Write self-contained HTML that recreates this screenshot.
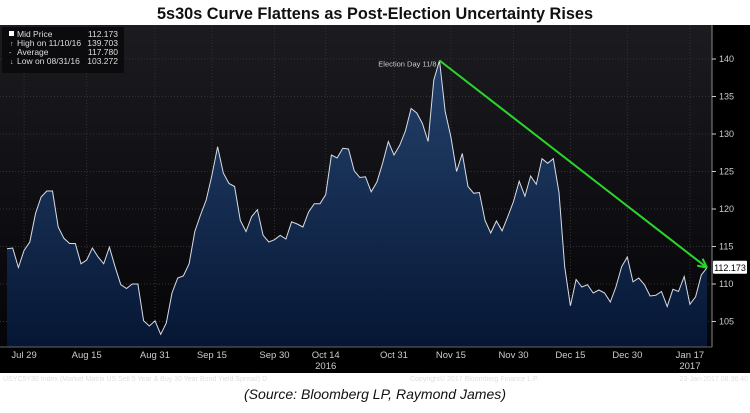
<!DOCTYPE html>
<html><head><meta charset="utf-8"><style>
body{margin:0;width:750px;height:408px;background:#fff;overflow:hidden;font-family:"Liberation Sans",sans-serif}
</style></head><body>
<svg id="c" width="750" height="408" xmlns="http://www.w3.org/2000/svg">
<defs>
<linearGradient id="bg" x1="0" y1="0" x2="0" y2="1"><stop offset="0" stop-color="#1b1b20"/><stop offset="1" stop-color="#050508"/></linearGradient>
<linearGradient id="fill" x1="0" y1="0" x2="0" y2="1"><stop offset="0" stop-color="#24426c"/><stop offset="1" stop-color="#061634"/></linearGradient>
</defs>
<text x="375" y="19" text-anchor="middle" font-size="17" font-weight="bold" fill="#111" textLength="436" lengthAdjust="spacingAndGlyphs">5s30s Curve Flattens as Post-Election Uncertainty Rises</text>
<rect x="0" y="25" width="750" height="348" fill="#000"/>
<rect x="0" y="25" width="712" height="322" fill="url(#bg)"/>
<g id="grid"></g>
<g id="series"></g>
<line x1="712" y1="25" x2="712" y2="347" stroke="#888" stroke-width="1"/>
<line x1="0" y1="347" x2="712" y2="347" stroke="#666" stroke-width="1"/>
<g id="yt" font-size="9" fill="#ccc"></g>
<g id="xt" font-size="9.5" fill="#ccc"></g>
<g>
<rect x="2" y="27" width="122" height="46" fill="#0a0a0c" opacity="0.9"/>
<g font-size="8.5" fill="#ddd">
<rect x="9" y="31" width="5" height="5" fill="#fff"/>
<text x="17" y="37">Mid Price</text><text x="118" y="37" text-anchor="end">112.173</text>
<text x="10" y="46" font-size="7">↑</text><text x="17" y="46">High on 11/10/16</text><text x="118" y="46" text-anchor="end">139.703</text>
<text x="9" y="55" font-size="7">-</text><text x="17" y="55">Average</text><text x="118" y="55" text-anchor="end">117.780</text>
<text x="10" y="64" font-size="7">↓</text><text x="17" y="64">Low on 08/31/16</text><text x="118" y="64" text-anchor="end">103.272</text>
</g></g>
<text x="3" y="381" font-size="7" fill="#ddd">USYC5Y30 Index (Market Matrix US Sell 5 Year &amp; Buy 30 Year Bond Yield Spread) D</text>
<text x="410" y="381" font-size="7" fill="#ddd">Copyright© 2017 Bloomberg Finance L.P.</text>
<text x="748" y="381" font-size="7" fill="#ddd" text-anchor="end">23-Jan-2017 08:36:40</text>
<text x="375" y="399" font-size="14" font-style="italic" text-anchor="middle" fill="#111" textLength="262" lengthAdjust="spacingAndGlyphs">(Source: Bloomberg LP, Raymond James)</text>
</svg>
<script>
const values=[114.7,114.8,112.2,114.5,115.6,119.4,121.6,122.4,122.4,117.6,116.1,115.4,115.4,112.7,113.2,114.8,113.6,112.7,114.9,112.3,109.9,109.4,110.0,110.0,105.1,104.4,105.1,103.3,104.8,108.8,110.8,111.1,112.7,117.0,119.2,121.2,124.5,128.3,124.8,123.4,123.0,118.5,117.0,119.0,119.9,116.5,115.6,115.9,116.5,116.0,118.3,118.0,117.6,119.6,120.7,120.7,121.9,127.2,126.8,128.1,128.0,125.1,124.2,124.3,122.3,123.6,126.1,129.0,127.2,128.5,130.4,133.4,132.8,131.4,129.0,137.2,139.8,133.0,129.6,125.0,127.4,123.0,122.1,122.2,118.5,116.8,118.4,117.1,119.0,121.0,123.7,121.7,124.4,123.3,126.7,126.1,126.7,122.2,112.3,107.1,110.6,109.6,109.9,108.8,109.2,108.8,107.6,109.6,112.3,113.6,110.3,110.8,109.9,108.4,108.5,109.0,107.0,109.3,109.0,111.0,107.3,108.3,111.2,112.173];
const yTicks=[105,110,115,120,125,130,135,140];
const xLabels=["Jul 29","Aug 15","Aug 31","Sep 15","Sep 30","Oct 14","Oct 31","Nov 15","Nov 30","Dec 15","Dec 30","Jan 17"];
const xLabelIdx=[3,14,26,36,47,56,68,78,89,99,109,120];
const peakIdx=76;
const NS="http://www.w3.org/2000/svg";
const X0=7,X1=707,BOTTOM=347;
function xs(i){return X0+i*(X1-X0)/(values.length-1);}
function ys(v){return 59+(140-v)*7.5;}
function mk(t,a,p){const e=document.createElementNS(NS,t);for(const k in a)e.setAttribute(k,a[k]);p.appendChild(e);return e;}
const grid=document.getElementById('grid'),yt=document.getElementById('yt'),xt=document.getElementById('xt'),ser=document.getElementById('series');
yTicks.forEach(v=>{
 const l=mk('line',{x1:0,x2:712,y1:ys(v),y2:ys(v),stroke:'#333',"stroke-dasharray":'1,2'},grid);
 
 
 mk('line',{x1:712,x2:716,y1:ys(v),y2:ys(v),stroke:'#ccc'},yt);
 const t=mk('text',{x:719,y:ys(v)+3},yt);t.textContent=v;
 
 
});
xLabels.forEach((s,k)=>{
 const x=xs(xLabelIdx[k]);
 const l=mk('line',{x1:x,x2:x,y1:25,y2:347,stroke:'#333',"stroke-dasharray":'1,2'},grid);
 
 
 const t=mk('text',{x:x,y:358,"text-anchor":'middle'},xt);t.textContent=s;
 
 
});
[["2016",5],["2017",11]].forEach(([s,k])=>{const t=mk('text',{x:xs(xLabelIdx[k]),y:369,"text-anchor":'middle'},xt);t.textContent=s;
 
 });
let d='';values.forEach((v,i)=>{d+=(i?'L':'M')+xs(i).toFixed(1)+','+ys(v).toFixed(1);});
const area=mk('path',{d:d+`L${xs(values.length-1)},${BOTTOM}L${xs(0)},${BOTTOM}Z`,fill:'url(#fill)'},ser);


const line=mk('path',{d:d,fill:'none',stroke:'#d8dde6','stroke-width':1},ser);


const last=values[values.length-1];
const px=xs(peakIdx),py=ys(values[peakIdx]),lx=xs(values.length-1),ly=ys(last);
const arr=mk('line',{x1:px,y1:py,x2:lx,y2:ly,stroke:'#2bd62b','stroke-width':2},ser);


const ang=Math.atan2(ly-py,lx-px);
const h=mk('path',{d:`M${lx},${ly}L${lx-10*Math.cos(ang-0.45)},${ly-10*Math.sin(ang-0.45)}M${lx},${ly}L${lx-10*Math.cos(ang+0.45)},${ly-10*Math.sin(ang+0.45)}`,stroke:'#2bd62b','stroke-width':2,fill:'none'},ser);


const ann=mk('text',{x:px-3,y:py+6,'text-anchor':'end','font-size':7.5,fill:'#ccc'},ser);ann.textContent='Election Day 11/8';


const lb=mk('rect',{x:713,y:ly-7,width:34,height:13,fill:'#fff',rx:1},ser);


const lt=mk('text',{x:730,y:ly+3.5,'text-anchor':'middle','font-size':9,fill:'#000'},ser);lt.textContent=last.toFixed(3);


</script>
</body></html>
